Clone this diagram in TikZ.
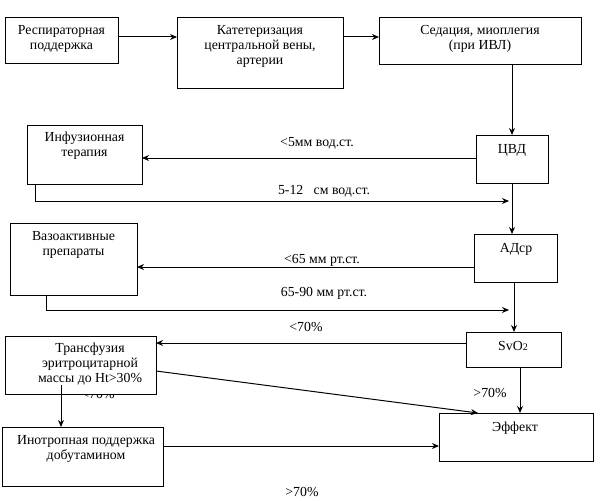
\documentclass[tikz,border=0pt]{standalone}
\usepackage{fontspec}
\setmainfont{Liberation Serif}
\usetikzlibrary{arrows.meta,calc}
\begin{document}
\begin{tikzpicture}[x=1pt,y=-1pt,
  box/.style={draw,line width=0.9pt,fill=white,rectangle,inner sep=0pt,outer sep=0pt},
  txt/.style={align=center,inner sep=0pt,font=\fontsize{13.8}{15}\selectfont},
  lbl/.style={inner sep=0pt,font=\fontsize{13.8}{15}\selectfont},
  arr/.style={line width=1pt,-{Stealth[length=7pt,width=6pt]}},
  ln/.style={line width=1pt}]
\useasboundingbox (0,0) rectangle (601,500);
% partly hidden label
\node[lbl] (hid) at (98,393.5) {<70\%};
% boxes
\node[box,minimum width=113pt,minimum height=46pt] (resp) at (61.5,40) {};
\node[box,minimum width=166pt,minimum height=71pt] (kat) at (260,52.5) {};
\node[box,minimum width=202pt,minimum height=47pt] (sed) at (480,40.5) {};
\node[box,minimum width=72pt,minimum height=48pt] (cvd) at (512,159) {};
\node[box,minimum width=115pt,minimum height=59pt] (inf) at (84.5,154.5) {};
\node[box,minimum width=83pt,minimum height=48pt] (ad) at (515.5,258) {};
\node[box,minimum width=127pt,minimum height=72pt] (vaz) at (73.5,259) {};
\node[box,minimum width=95pt,minimum height=35pt] (svo) at (513.5,349.5) {};
\node[box,minimum width=151pt,minimum height=58pt] (trans) at (80.5,365) {};
\node[box,minimum width=161pt,minimum height=59pt] (inot) at (82.5,456.5) {};
\node[box,minimum width=154pt,minimum height=48pt] (eff) at (516,437) {};
% texts
\node[txt] (respT) at (61.5,39) {Респираторная\\поддержка};
\node[txt] (katT) at (260,46.5) {Катетеризация\\центральной вены,\\артерии};
\node[txt] (sedT) at (480,39) {Седация, миоплегия\\(при ИВЛ)};
\node[txt] (cvdT) at (512,150) {ЦВД};
\node[txt] (infT) at (84.5,146) {Инфузионная\\терапия};
\node[txt] (adT) at (516,249) {АДср};
\node[txt] (vazT) at (73.5,245) {Вазоактивные\\препараты};
\node[txt] (svoT) at (513,346) {SvO\raisebox{-0.5pt}{\fontsize{10}{10}\selectfont 2}};
\node[txt] (transT) at (90,364.5) {Трансфузия\\эритроцитарной\\массы до Ht>30\%};
\node[txt] (inotT) at (86,448.5) {Инотропная поддержка\\добутамином};
\node[txt] (effT) at (515,428) {Эффект};
% labels
\node[lbl] (l1) at (317,143) {<5мм вод.ст.};
\node[lbl] (l2) at (324,191) {5-12\ \ \ см вод.ст.};
\node[lbl] (l3) at (322,260) {<65 мм рт.ст.};
\node[lbl] (l4) at (324,293) {65-90 мм рт.ст.};
\node[lbl] (l5) at (306,327) {<70\%};
\node[lbl] (l6) at (490,393) {>70\%};
\node[lbl] (l7) at (302,492) {>70\%};
% helper coordinates
\coordinate (c1) at (35,201);
\coordinate (c2) at (46,310);
\coordinate (c4) at (61,385);
% connectors
\draw[arr] ([yshift=3pt]resp.east) -- ([yshift=3pt]resp.east -| kat.west);
\draw[arr] ([yshift=3pt]resp.east -| kat.east) -- ([yshift=3pt]resp.east -| sed.west);
\draw[arr] (sed.south -| cvd.north) -- (cvd.north);
\draw[arr] ([yshift=1pt]cvd.west) -- ([yshift=1pt]cvd.west -| inf.east);
\draw[arr] (inf.south -| c1) -- (c1) -- ([xshift=-3pt]c1 -| cvd.south);
\draw[arr] (cvd.south) -- (cvd.south |- ad.north);
\draw[arr] ([yshift=-9pt]ad.west) -- ([yshift=-9pt]ad.west -| vaz.east);
\draw[arr] (vaz.south -| c2) -- (c2) -- ([xshift=-3pt]c2 -| cvd.south);
\draw[arr] ([xshift=-1.5pt]ad.south) -- ([xshift=-1.5pt]ad.south |- svo.north);
\draw[arr] ([yshift=6.5pt]svo.west) -- ([yshift=6.5pt]svo.west -| trans.east);
\draw[arr] ([xshift=6.5pt]svo.south) -- ([xshift=6.5pt]svo.south |- eff.north);
\draw[arr] ([yshift=-6pt]trans.east) -- ([xshift=-38pt]eff.north);
\draw[arr] (c4) -- (c4 |- inot.north);
\draw[arr] ([yshift=10.5pt]inot.east) -- ([yshift=10.5pt]inot.east -| eff.west);
\end{tikzpicture}
\end{document}
